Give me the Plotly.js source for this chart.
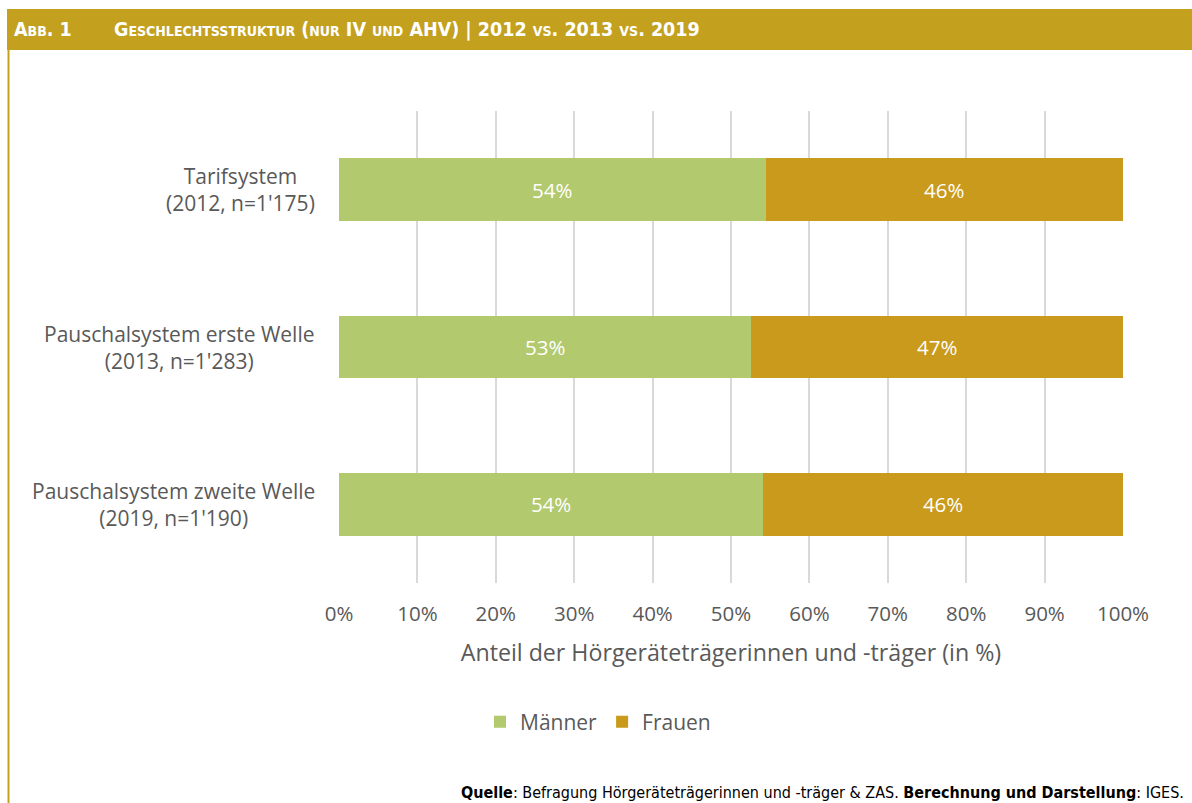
<!DOCTYPE html>
<html>
<head>
<meta charset="utf-8">
<script src="https://cdn.plot.ly/plotly-3.0.1.min.js"></script>
<style>html,body{margin:0;padding:0;background:#fff;}#chart{width:1192px;height:803px;}</style>
</head>
<body>
<div id="chart"></div>
<script>
const categories = ["Tarifsystem", "Pauschalsystem erste Welle", "Pauschalsystem zweite Welle"];
const subLabels = ["(2012, n=1'175)", "(2013, n=1'283)", "(2019, n=1'190)"];
const maenner = [54.4, 52.6, 54.1];
const frauen = [45.6, 47.4, 45.9];
const xTickVals = [0, 10, 20, 30, 40, 50, 60, 70, 80, 90, 100];
const xTickText = ["0%", "10%", "20%", "30%", "40%", "50%", "60%", "70%", "80%", "90%", "100%"];
const seriesNames = ["Männer", "Frauen"];
const titleLeft = "Abb. 1";
const titleMain = "Geschlechtsstruktur (nur IV und AHV) | 2012 vs. 2013 vs. 2019";
const axisTitle = "Anteil der Hörgeräteträgerinnen und -träger (in %)";
const sourceText = "<b>Quelle</b>: Befragung Hörgeräteträgerinnen und -träger & ZAS. <b>Berechnung und Darstellung</b>: IGES.";

const W = 1192, H = 803, L = 339, R = 69, T = 111, B = 220;
const PW = W - L - R, PH = H - T - B;
const px = x => (x - L) / PW;
const py = y => (H - B - y) / PH;

const GREEN = "#B2C96E", GOLD = "#C99A1B", BAR = "#C3A11F", TXT = "#595959";
const FONT = "'Open Sans', 'Noto Sans', sans-serif";
const NARROW = "'Liberation Sans Narrow', 'DejaVu Sans Condensed', sans-serif";

const traces = [
  {type: "bar", orientation: "h", name: seriesNames[0], y: categories, x: maenner,
   marker: {color: GREEN}, width: 0.4,
   texttemplate: "%{x:.0f}%", textposition: "inside", insidetextanchor: "middle",
   textfont: {color: "#ffffff", size: 20.5, family: FONT}, hoverinfo: "skip"},
  {type: "bar", orientation: "h", name: seriesNames[1], y: categories, x: frauen,
   marker: {color: GOLD}, width: 0.4,
   texttemplate: "%{x:.0f}%", textposition: "inside", insidetextanchor: "middle",
   textfont: {color: "#ffffff", size: 20.5, family: FONT}, hoverinfo: "skip"}
];

const annotations = categories.map((c, i) => ({
  xref: "paper", yref: "y", x: px(317), y: c, xanchor: "right", yanchor: "middle",
  align: "center", showarrow: false, text: c + "<br>" + subLabels[i],
  font: {family: FONT, size: 21, color: TXT}
}));
annotations.push({
  xref: "paper", yref: "paper", x: px(12), y: py(30), xanchor: "left", yanchor: "middle",
  showarrow: false, text: "<b>" + titleLeft + "</b>",
  font: {family: NARROW, size: 19.5, color: "#ffffff", variant: "small-caps"}
});
annotations.push({
  xref: "paper", yref: "paper", x: px(112), y: py(30), xanchor: "left", yanchor: "middle",
  showarrow: false, text: "<b>" + titleMain + "</b>",
  font: {family: NARROW, size: 19.5, color: "#ffffff", variant: "small-caps"}
});
annotations.push({
  xref: "paper", yref: "paper", x: px(1186), y: py(792), xanchor: "right", yanchor: "middle",
  showarrow: false, text: sourceText,
  font: {family: NARROW, size: 16, color: "#000000"}
});

const layout = {
  width: W, height: H,
  margin: {l: L, r: R, t: T, b: B, pad: 0},
  paper_bgcolor: "#ffffff", plot_bgcolor: "#ffffff",
  barmode: "stack",
  showlegend: true,
  legend: {orientation: "h", x: px(598), y: py(722), xanchor: "center", yanchor: "middle",
           font: {family: FONT, size: 21, color: TXT}, traceorder: "normal", itemwidth: 30},
  xaxis: {range: [0, 100], tickvals: xTickVals, ticktext: xTickText, showgrid: true,
          gridcolor: "#D9D9D9", gridwidth: 2, zeroline: false, showline: false,
          ticks: "", ticklabelstandoff: 16,
          tickfont: {family: FONT, size: 20.5, color: TXT},
          title: {text: axisTitle, font: {family: FONT, size: 23.2, color: TXT}, standoff: 19},
          fixedrange: true},
  yaxis: {categoryorder: "array", categoryarray: categories, autorange: "reversed",
          showticklabels: false, showgrid: false, zeroline: false, showline: false, ticks: "",
          fixedrange: true},
  shapes: [
    {type: "rect", xref: "paper", yref: "paper", x0: px(7), x1: px(1192), y0: py(50), y1: py(9),
     fillcolor: BAR, line: {width: 0}, layer: "below"},
    {type: "line", xref: "paper", yref: "paper", x0: px(8.5), x1: px(8.5), y0: py(50), y1: py(803),
     line: {color: BAR, width: 2}}
  ],
  annotations: annotations
};

Plotly.newPlot("chart", traces, layout, {displayModeBar: false, staticPlot: true});
</script>
</body>
</html>
